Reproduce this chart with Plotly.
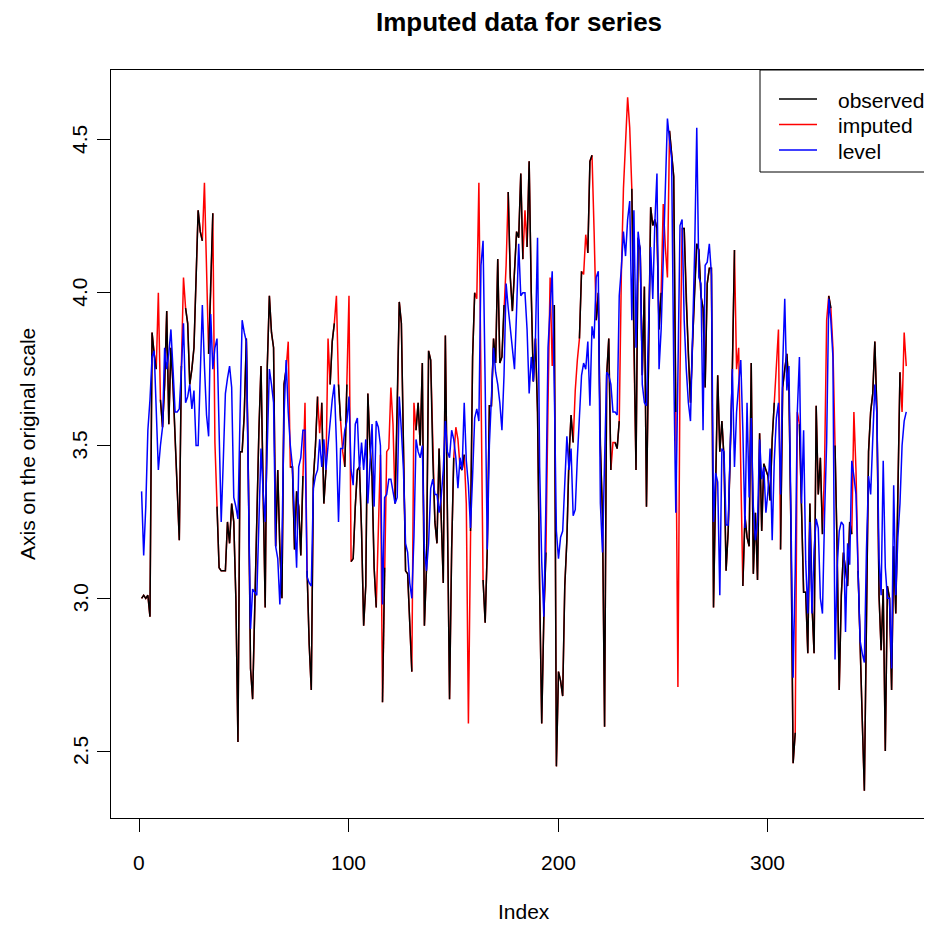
import plotly.graph_objects as go

# full (imputed) series, index 1..366
imputed = [
3.00,3.01,3.00,3.01,2.94,3.87,3.80,3.75,4.00,3.65,
3.56,3.70,3.94,3.57,3.82,3.70,3.52,3.35,3.19,3.76,
4.05,3.95,3.90,3.70,3.75,3.82,4.05,4.27,4.20,4.17,
4.36,4.10,3.80,4.00,4.26,3.51,3.30,3.10,3.09,3.09,
3.09,3.25,3.18,3.31,3.25,3.00,2.53,3.48,3.48,3.60,
3.85,3.39,2.77,2.67,3.00,3.31,3.55,3.76,3.30,2.97,
3.76,3.99,3.87,3.82,3.17,3.42,3.16,3.00,3.70,3.75,
3.84,3.43,3.43,3.16,3.35,3.30,3.14,3.40,3.64,3.09,
2.85,2.70,3.39,3.50,3.66,3.54,3.64,3.31,3.42,3.85,
3.70,3.84,3.90,3.99,3.70,3.58,3.48,3.43,3.70,3.99,
3.12,3.13,3.30,3.42,3.43,3.22,2.91,3.04,3.67,3.50,
3.40,3.10,2.97,3.23,3.47,2.66,3.10,3.48,3.49,3.69,
3.57,3.31,3.60,3.97,3.90,3.50,3.09,3.08,2.90,2.76,
3.64,3.55,3.64,3.50,3.77,2.91,3.10,3.81,3.78,3.46,
3.25,3.18,3.49,3.27,3.05,3.86,3.16,2.67,3.16,3.46,
3.56,3.52,3.43,3.42,3.47,3.31,2.59,3.22,3.79,4.00,
3.98,4.36,3.61,3.06,2.92,3.16,3.63,3.63,3.85,3.77,
4.11,3.77,3.79,3.96,4.09,4.33,4.05,3.94,4.08,4.20,
4.18,4.39,4.11,4.27,4.15,4.43,4.00,3.71,3.85,3.61,
3.03,2.59,2.94,3.15,3.64,4.05,3.76,3.96,2.45,2.76,
2.73,2.68,3.04,3.19,3.46,3.60,3.51,3.68,3.78,3.85,
4.07,4.06,4.19,4.13,4.43,4.45,4.20,3.91,4.00,3.50,
3.27,2.58,3.73,3.85,3.42,3.51,3.51,3.49,3.58,4.06,
4.34,4.50,4.64,4.54,4.34,3.82,3.42,4.18,4.14,3.73,
4.02,3.30,3.80,4.28,4.22,4.24,4.21,3.88,4.00,4.29,
4.15,4.05,4.53,4.45,4.38,3.61,2.71,3.73,4.21,4.21,
3.97,3.79,3.64,3.84,4.02,4.16,4.14,3.99,3.95,3.69,
4.03,4.08,4.08,2.97,3.37,3.73,3.48,3.58,3.46,3.09,
3.22,3.50,3.75,4.14,3.75,3.82,3.37,3.04,3.27,3.20,
3.17,3.77,3.08,3.28,3.06,3.54,3.22,3.44,3.42,3.40,
3.32,3.52,3.64,3.75,3.88,3.16,3.69,3.75,3.80,3.69,
3.20,2.46,2.56,3.61,3.57,3.30,3.02,3.02,2.82,3.31,
2.98,2.82,3.63,3.34,3.46,3.21,3.43,3.91,3.99,3.95,
3.82,3.50,3.16,2.70,3.01,3.15,3.10,3.04,3.25,3.21,
3.61,3.42,3.09,2.80,2.60,2.37,3.01,3.48,3.61,3.67,
3.84,3.61,3.01,2.83,3.03,2.50,3.04,3.00,2.70,3.17,
2.95,3.35,3.74,3.61,3.87,3.76,
]

# indices (1-based) that were missing in the observed series
missing_idx = [9, 21, 31, 32, 36, 71, 79, 86, 90, 94, 97, 100, 114, 115, 118, 120, 121,
               131, 151, 152, 156, 157, 161, 162, 163, 175, 184, 195, 196, 197, 208, 209,
               212, 213, 217, 226, 230, 231, 232, 233, 234, 250, 252, 257, 258, 285, 286,
               287, 304, 305, 314, 327, 328, 331, 341, 342, 364, 365]

level = [
3.35,3.14,3.30,3.55,3.65,3.79,3.81,3.60,3.42,3.50,
3.56,3.82,3.75,3.80,3.88,3.75,3.61,3.61,3.62,3.75,
3.90,3.64,3.66,3.70,3.62,3.68,3.50,3.50,3.75,3.96,
3.76,3.60,3.53,3.93,3.75,3.82,3.85,3.50,3.25,3.45,
3.67,3.72,3.76,3.69,3.33,3.30,3.26,3.60,3.91,3.87,
3.84,3.35,2.90,3.03,3.02,3.01,3.25,3.49,3.35,3.25,
3.50,3.75,3.70,3.64,3.17,3.13,2.98,3.18,3.60,3.78,
3.61,3.50,3.43,3.25,3.10,3.43,3.46,3.55,3.55,3.07,
3.05,3.04,3.36,3.40,3.42,3.52,3.43,3.52,3.42,3.50,
3.58,3.65,3.70,3.51,3.25,3.49,3.49,3.55,3.58,3.66,
3.42,3.37,3.57,3.59,3.42,3.51,3.42,3.52,3.31,3.45,
3.57,3.30,3.58,3.56,3.50,2.98,3.33,3.34,3.39,3.39,
3.35,3.31,3.33,3.66,3.55,3.42,3.18,3.15,3.05,3.00,
3.20,3.52,3.48,3.46,3.50,3.16,3.09,3.18,3.36,3.39,
3.34,3.34,3.28,3.33,3.42,3.58,3.48,3.46,3.55,3.52,
3.46,3.36,3.46,3.42,3.64,3.45,3.37,3.23,3.40,3.59,
3.62,3.58,4.09,4.17,3.70,3.16,3.50,3.64,3.82,3.74,
3.70,3.64,3.55,3.73,4.03,3.95,3.89,3.81,3.75,3.94,
4.16,3.99,4.00,4.00,3.88,3.67,3.79,3.71,3.85,4.18,
3.43,3.12,2.94,3.31,3.82,3.95,4.07,3.69,3.22,3.13,
3.20,3.22,3.36,3.53,3.42,3.49,3.27,3.29,3.46,3.58,
3.73,3.77,3.75,3.84,3.63,3.89,3.85,4.05,4.07,3.31,
3.15,3.45,3.74,3.73,3.70,3.61,3.61,3.60,3.99,4.08,
4.20,4.12,4.24,4.30,3.91,4.27,3.82,4.20,4.14,3.70,
3.64,3.63,3.90,4.15,3.98,4.23,4.39,3.75,3.88,4.10,
4.29,4.57,4.50,4.44,3.76,3.28,3.73,4.22,4.24,3.91,
3.75,3.64,3.58,3.82,4.14,4.54,4.05,4.03,3.55,4.09,
4.10,4.16,4.06,3.25,3.41,3.38,3.01,3.49,3.48,3.24,
3.24,3.50,3.75,3.43,3.61,3.70,3.78,3.55,3.23,3.64,
3.33,3.59,3.30,3.19,3.25,3.52,3.39,3.43,3.28,3.35,
3.49,3.19,3.45,3.59,3.64,3.34,3.76,3.98,3.68,3.76,
3.30,2.74,3.09,3.61,3.79,3.31,3.55,3.12,2.95,3.25,
2.95,3.16,3.26,3.23,3.00,2.95,3.27,3.51,3.98,3.91,
3.79,2.80,3.10,3.22,3.25,3.24,2.89,3.18,3.11,3.45,
3.40,3.34,3.09,2.86,2.82,2.79,3.16,3.40,3.34,3.55,
3.70,3.60,3.13,3.01,3.45,3.10,3.00,3.00,2.77,3.37,
3.01,3.20,3.31,3.50,3.58,3.61,
]

x_ticks = [0, 100, 200, 300]
y_ticks = [2.5, 3.0, 3.5, 4.0, 4.5]
y_tick_labels = ["2.5", "3.0", "3.5", "4.0", "4.5"]
legend_labels = ["observed", "imputed", "level"]
legend_colors = ["black", "#FF0000", "#0000FF"]

index = list(range(1, len(imputed) + 1))
miss = set(missing_idx)
observed = [None if i in miss else v for i, v in zip(index, imputed)]

FONT = "Liberation Sans, Arial, Helvetica, sans-serif"
OFF = 8  # page body margin offset
W, H = 932 - OFF, 925 - OFF
L_M, R_M, T_M, B_M = 111 - OFF, 0, 70 - OFF, 107
pw, ph = W - L_M - R_M, H - T_M - B_M

fig = go.Figure()
fig.add_trace(go.Scatter(x=index, y=imputed, mode="lines",
                         line=dict(color="#FF0000", width=1.5), showlegend=False))
fig.add_trace(go.Scatter(x=index, y=observed, mode="lines", connectgaps=False,
                         line=dict(color="black", width=1.5), showlegend=False))
fig.add_trace(go.Scatter(x=index, y=level, mode="lines",
                         line=dict(color="#0000FF", width=1.5), showlegend=False))

xr = [-13.6, -13.6 + pw / 2.095]
yr = [2.281, 4.729]

fig.update_layout(
    width=W, height=H,
    margin=dict(l=L_M, r=R_M, t=T_M, b=B_M),
    paper_bgcolor="white", plot_bgcolor="white",
    font=dict(family=FONT, size=21, color="black"),
    showlegend=False,
    xaxis=dict(range=xr, showgrid=False, zeroline=False, showline=True, mirror=True,
               linecolor="black", linewidth=1, ticks="outside", ticklen=13,
               tickcolor="black", tickvals=x_ticks, showticklabels=False),
    yaxis=dict(range=yr, showgrid=False, zeroline=False, showline=True, mirror=False,
               linecolor="black", linewidth=1, ticks="outside", ticklen=13,
               tickcolor="black", tickvals=y_ticks, showticklabels=False),
)

# helpers: reference-page pixel -> paper coords
def pxp(xpix):
    return (xpix - OFF - L_M) / pw

def py(ypix):
    return (H - B_M - (ypix - OFF)) / ph

ann = []
for t in x_ticks:
    ann.append(dict(x=t, y=py(862), xref="x", yref="paper", text=str(t), showarrow=False,
                    font=dict(size=21), xanchor="center", yanchor="middle"))
for v, lab in zip(y_ticks, y_tick_labels):
    ann.append(dict(x=pxp(80), y=v, xref="paper", yref="y", text=lab,
                    showarrow=False, textangle=-90, font=dict(size=21),
                    xanchor="center", yanchor="middle"))
ann.append(dict(x=pxp(519), y=py(22), xref="paper", yref="paper",
                text="<b>Imputed data for series</b>", showarrow=False,
                font=dict(size=26), xanchor="center", yanchor="middle"))
ann.append(dict(x=pxp(524), y=py(911), xref="paper", yref="paper",
                text="Index", showarrow=False, font=dict(size=21),
                xanchor="center", yanchor="middle"))
ann.append(dict(x=pxp(27), y=py(444), xref="paper", yref="paper",
                text="Axis on the original scale", showarrow=False, textangle=-90,
                font=dict(size=21), xanchor="center", yanchor="middle"))

shapes = [dict(type="rect", xref="paper", yref="paper", x0=pxp(760), x1=pxp(960),
               y0=py(172), y1=py(70), line=dict(color="black", width=1),
               fillcolor="white", layer="above")]
for k, (lab, col) in enumerate(zip(legend_labels, legend_colors)):
    yl = 99 + 25.5 * k
    shapes.append(dict(type="line", xref="paper", yref="paper", x0=pxp(779), x1=pxp(817),
                       y0=py(yl), y1=py(yl), line=dict(color=col, width=1.5), layer="above"))
    ann.append(dict(x=pxp(836), y=py(yl + 1), xref="paper", yref="paper", text=lab,
                    showarrow=False, font=dict(size=21), xanchor="left", yanchor="middle"))

fig.update_layout(annotations=ann, shapes=shapes)
fig.write_html("out.html")
